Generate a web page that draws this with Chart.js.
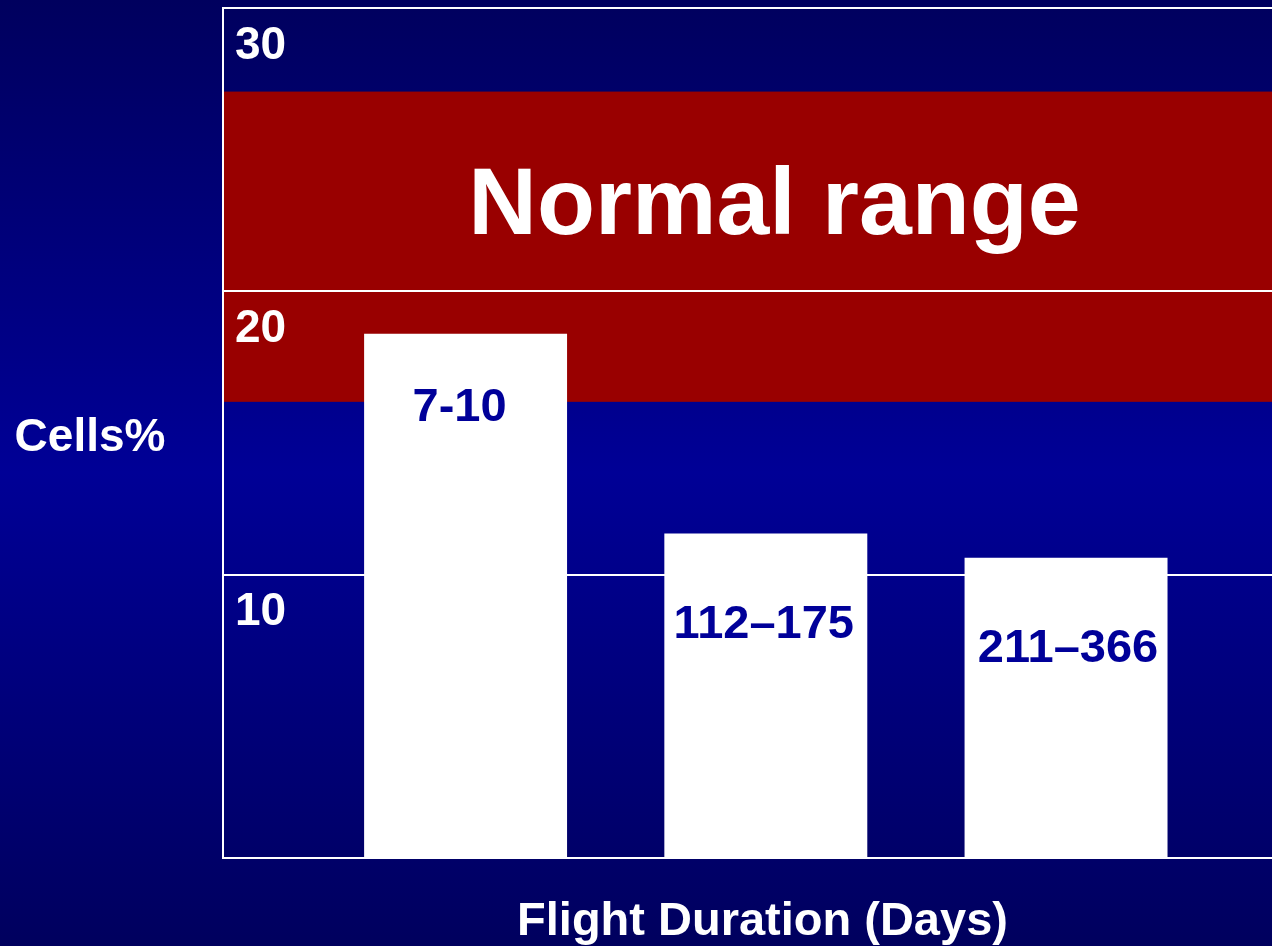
<!DOCTYPE html>
<html><head><meta charset="utf-8">
<script src="https://cdn.jsdelivr.net/npm/chart.js@4.4.1/dist/chart.umd.min.js"></script>
<style>
html,body{margin:0;padding:0;}
body{width:1272px;height:946px;overflow:hidden;background:linear-gradient(to bottom,#00005e 0%,#000096 50%,#00005e 100%);}
#wrap{position:relative;width:1272px;height:946px;}
canvas{display:block;}
</style></head><body>
<div id="wrap"><canvas id="c" width="1272" height="946"></canvas></div>
<script>
// ---- data ----
const categories = ['7-10', '112–175', '211–366'];
const cellPercent = [18.5, 11.45, 10.6];
const normalRange = [16.1, 27.05];
const yTicks = [0, 10, 20, 30];
const yAxisTitle = 'Cells%';
const xAxisTitle = 'Flight Duration (Days)';
const bandLabel = 'Normal range';

const FONT = "'Liberation Sans', Arial, Helvetica, sans-serif";

const overlay = {
  id: 'overlay',
  beforeDraw(chart) {
    const {ctx, chartArea: a, scales: {y}} = chart;
    const top = y.getPixelForValue(normalRange[1]);
    const bot = y.getPixelForValue(normalRange[0]);
    ctx.save();
    ctx.fillStyle = '#990000';
    ctx.fillRect(a.left, top, a.right - a.left, bot - top);
    ctx.fillStyle = '#ffffff';
    ctx.textAlign = 'center';
    ctx.textBaseline = 'middle';
    ctx.font = 'bold 95px ' + FONT;
    ctx.fillText(bandLabel, (a.left + a.right) / 2 + 27, y.getPixelForValue(23.2) + 7);
    ctx.font = 'bold 46px ' + FONT;
    ctx.fillText(yAxisTitle, a.left - 133, (a.top + a.bottom) / 2 + 5);
    ctx.font = 'bold 47px ' + FONT;
    ctx.fillText(xAxisTitle, (a.left + a.right) / 2 + 15, a.bottom + 64);
    ctx.restore();
  },
  afterDatasetsDraw(chart) {
    const {ctx} = chart;
    const meta = chart.getDatasetMeta(0);
    const offY = [74, 91, 91];
    const offX = [-6, -2, 2];
    ctx.save();
    ctx.fillStyle = '#000099';
    ctx.font = 'bold 47px ' + FONT;
    ctx.textAlign = 'center';
    ctx.textBaseline = 'middle';
    meta.data.forEach((bar, i) => {
      ctx.fillText(categories[i], bar.x + offX[i], bar.y + offY[i]);
    });
    ctx.restore();
  }
};

new Chart(document.getElementById('c'), {
  type: 'bar',
  data: {
    datasets: [{
      label: 'Cells%',
      data: categories.map((c, i) => ({x: i + 1, y: cellPercent[i]})),
      backgroundColor: '#ffffff',
      borderWidth: 0,
      barPercentage: 0.676,
      categoryPercentage: 1
    }]
  },
  options: {
    responsive: false,
    animation: false,
    devicePixelRatio: 1,
    layout: {padding: {left: 223, top: 8, right: 0, bottom: 88}},
    plugins: {legend: {display: false}, tooltip: {enabled: false}},
    scales: {
      x: {
        type: 'linear',
        display: false,
        offset: false,
        min: 0.192,
        max: 3.686,
        afterBuildTicks: (s) => { s.ticks = categories.map((c, i) => ({value: i + 1})); }
      },
      y: {
        min: yTicks[0],
        max: yTicks[yTicks.length - 1],
        afterBuildTicks: (s) => { s.ticks = yTicks.map(v => ({value: v})); },
        afterFit: (s) => { s.paddingTop = 0; s.paddingBottom = 0; s.width = 0; },
        grid: {color: '#ffffff', lineWidth: 2, drawTicks: false},
        border: {display: true, color: '#ffffff', width: 2},
        ticks: {
          mirror: true,
          padding: 12,
          labelOffset: 38,
          color: '#ffffff',
          font: {family: FONT, size: 46, weight: 'bold'},
          callback: (v) => v === 0 ? '' : String(v)
        }
      }
    }
  },
  plugins: [overlay]
});
</script>
</body></html>
